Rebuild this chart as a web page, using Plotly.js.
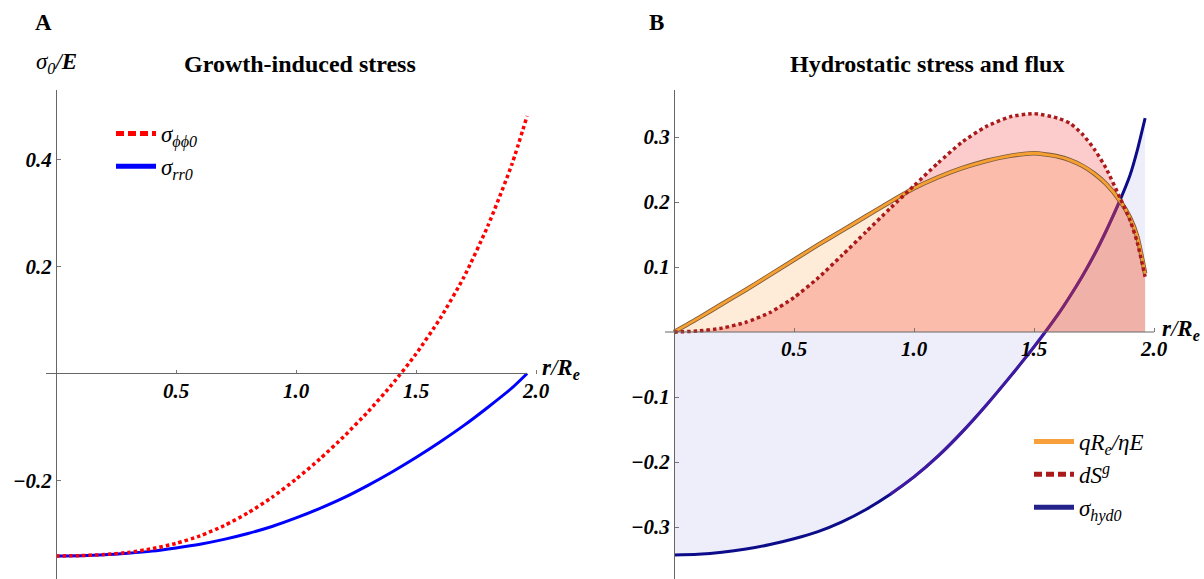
<!DOCTYPE html>
<html><head><meta charset="utf-8">
<script src="https://cdn.plot.ly/plotly-3.0.1.min.js"></script>
<style>html,body{margin:0;padding:0;background:#fff}#chart{width:1204px;height:579px}</style>
</head><body><div id="chart"></div>
<script>
// ---------- Panel A : growth-induced stress ----------
const rA = [0,0.1,0.2,0.3,0.4,0.5,0.6,0.7,0.8,0.9,1.0,1.1,1.2,1.3,1.4,1.5,1.6,1.7,1.8,1.9,1.963];
const sigmaPhiPhi0 = [-0.341,-0.3405,-0.3385,-0.3345,-0.3275,-0.3175,-0.3035,-0.2845,-0.2605,-0.2315,-0.1975,-0.1595,-0.1175,-0.0715,-0.0205,0.0365,0.1025,0.1805,0.2765,0.3915,0.4815];
const sigmaRR0 = [-0.341,-0.3405,-0.339,-0.336,-0.332,-0.326,-0.319,-0.310,-0.299,-0.286,-0.270,-0.252,-0.232,-0.209,-0.184,-0.157,-0.128,-0.097,-0.063,-0.027,0.0];
const xTicksA = [0.5,1.0,1.5,2.0];
const xTickTextA = ["0.5","1.0","1.5","2.0"];
const yTicksA = [-0.2,0.2,0.4];
const yTickTextA = ["\u22120.2","0.2","0.4"];

// ---------- Panel B : hydrostatic stress and flux ----------
const rB = [0,0.1,0.2,0.3,0.4,0.5,0.6,0.7,0.8,0.9,1.0,1.1,1.2,1.3,1.4,1.5,1.6,1.65,1.7,1.75,1.8,1.86,1.9,1.93,1.963];
const fluxQ = [0,0.021,0.043,0.065,0.088,0.111,0.134,0.156,0.178,0.200,0.221,0.238,0.252,0.263,0.271,0.275,0.270,0.2645,0.256,0.244,0.228,0.201,0.176,0.147,0.090];
const dSg = [0,0.0015,0.006,0.015,0.030,0.053,0.083,0.118,0.154,0.190,0.225,0.260,0.292,0.316,0.331,0.336,0.329,0.321,0.305,0.282,0.252,0.205,0.172,0.138,0.085];
const sigmaHyd0 = [-0.343,-0.342,-0.339,-0.334,-0.327,-0.318,-0.307,-0.292,-0.273,-0.250,-0.223,-0.191,-0.154,-0.113,-0.069,-0.023,0.027,0.055,0.085,0.118,0.155,0.204,0.241,0.279,0.329];
const xTicksB = [0.5,1.0,1.5,2.0];
const xTickTextB = ["0.5","1.0","1.5","2.0"];
const yTicksB = [-0.3,-0.2,-0.1,0.1,0.2,0.3];
const yTickTextB = ["\u22120.3","\u22120.2","\u22120.1","0.1","0.2","0.3"];

const W = 1204, H = 579;
const px = v => v / W;
const py = v => 1 - v / H;
const serif = "'Liberation Serif', 'Times New Roman', serif";

// purple-tinted part of the hydrostatic curve
const purpleIdx = rB.map((r,i)=>i).filter(i => rB[i] >= 0.9 && rB[i] <= 1.86);

const spl = {shape:'spline', smoothing:0.6};

const traces = [
  // Panel A curves
  {x: rA, y: sigmaRR0, xaxis:'x', yaxis:'y', mode:'lines', showlegend:false,
   line: Object.assign({color:'#0000ff', width:3}, spl)},
  {x: rA, y: sigmaPhiPhi0, xaxis:'x', yaxis:'y', mode:'lines', showlegend:false,
   line: Object.assign({color:'#ff0000', width:3.5, dash:'3.5px,3px'}, spl)},
  // Panel A legend entries
  {x:[null], y:[null], xaxis:'x', yaxis:'y', mode:'lines', legend:'legend',
   name:'<i>σ<sub>ϕϕ0</sub></i>', line:{color:'#ff0000', width:5, dash:'8px,4px'}},
  {x:[null], y:[null], xaxis:'x', yaxis:'y', mode:'lines', legend:'legend',
   name:'<i>σ<sub>rr0</sub></i>', line:{color:'#0000ff', width:5}},

  // Panel B fills
  {x: rB, y: sigmaHyd0, xaxis:'x2', yaxis:'y2', mode:'none', fill:'tozeroy',
   fillcolor:'rgba(90,90,214,0.10)', showlegend:false},
  {x: rB, y: sigmaHyd0, xaxis:'x2', yaxis:'y2', mode:'lines', showlegend:false,
   line: Object.assign({color:'#0c0c8a', width:3}, spl)},
  {x: purpleIdx.map(i=>rB[i]), y: purpleIdx.map(i=>sigmaHyd0[i]), xaxis:'x2', yaxis:'y2', mode:'lines', showlegend:false,
   line: Object.assign({color:'rgba(80,30,170,0.75)', width:3}, spl)},
  {x: rB, y: fluxQ, xaxis:'x2', yaxis:'y2', mode:'none', fill:'tozeroy',
   fillcolor:'rgba(255,150,40,0.18)', showlegend:false},
  {x: rB, y: dSg, xaxis:'x2', yaxis:'y2', mode:'none', fill:'tozeroy',
   fillcolor:'rgba(240,0,0,0.20)', showlegend:false},
  // Panel B lines
  {x: rB, y: fluxQ, xaxis:'x2', yaxis:'y2', mode:'lines', showlegend:false,
   line: Object.assign({color:'#7d5a3c', width:4.5}, spl)},
  {x: rB, y: fluxQ, xaxis:'x2', yaxis:'y2', mode:'lines', showlegend:false,
   line: Object.assign({color:'#f7a032', width:2.8}, spl)},
  {x: rB, y: dSg, xaxis:'x2', yaxis:'y2', mode:'lines', showlegend:false,
   line: Object.assign({color:'#aa1a1a', width:3.5, dash:'3.5px,3px'}, spl)},
  // Panel B legend entries
  {x:[null], y:[null], xaxis:'x2', yaxis:'y2', mode:'lines', legend:'legend2',
   name:'<i>qR<sub>e</sub>/ηE</i>', line:{color:'#f7a03c', width:5}},
  {x:[null], y:[null], xaxis:'x2', yaxis:'y2', mode:'lines', legend:'legend2',
   name:'<i>dS<sup>g</sup></i>', line:{color:'#aa1a1a', width:5, dash:'8px,4px'}},
  {x:[null], y:[null], xaxis:'x2', yaxis:'y2', mode:'lines', legend:'legend2',
   name:'<i>σ<sub>hyd0</sub></i>', line:{color:'#22228a', width:5}}
];

const tickFont = {family: serif, size: 21, weight: 700, style: 'italic', color: '#000'};

// Panel geometry (pixels)
const A = {x0px: 56, xScale: 240, left: 46, right: 541, y0px: 373.5, yScale: 535, top: 90};
const B = {x0px: 674, xScale: 240, left: 665, right: 1159, y0px: 332, yScale: 650, top: 90};
function xr(P){ return [(P.left-P.x0px)/P.xScale, (P.right-P.x0px)/P.xScale]; }
function yr(P){ return [(P.y0px-H)/P.yScale, (P.y0px-P.top)/P.yScale]; }

const axCommon = {showgrid:false, zeroline:false, ticks:'inside', ticklen:4, tickcolor:'#777',
  tickfont: tickFont, fixedrange:true};

const layout = {
  width: W, height: H, margin:{l:0,r:0,t:0,b:0},
  paper_bgcolor:'#fff', plot_bgcolor:'rgba(0,0,0,0)', hovermode:false,
  font: {family: serif},
  xaxis: Object.assign({}, axCommon, {domain:[px(A.left), px(A.right)], range: xr(A),
    anchor:'free', position: py(A.y0px), showline:false,
    tickvals: xTicksA, ticktext: xTickTextA, ticklabelstandoff: 2}),
  yaxis: Object.assign({}, axCommon, {domain:[0, py(A.top)], range: yr(A),
    anchor:'free', position: px(A.x0px), showline:true, linecolor:'#666', linewidth:1,
    tickvals: yTicksA, ticktext: yTickTextA, ticklabelstandoff: 0}),
  xaxis2: Object.assign({}, axCommon, {domain:[px(B.left), px(B.right)], range: xr(B),
    anchor:'free', position: py(B.y0px), showline:false,
    tickvals: xTicksB, ticktext: xTickTextB, ticklabelstandoff: 2}),
  yaxis2: Object.assign({}, axCommon, {domain:[0, py(B.top)], range: yr(B),
    anchor:'free', position: px(B.x0px), showline:true, linecolor:'#666', linewidth:1,
    tickvals: yTicksB, ticktext: yTickTextB, ticklabelstandoff: 0}),
  shapes: [
    {type:'line', xref:'x', yref:'y', x0: xr(A)[0], x1: rA[rA.length-1], y0:0, y1:0,
     line:{color:'#666', width:1}},
    {type:'line', xref:'x2', yref:'y2', x0: xr(B)[0], x1: 2.0, y0:0, y1:0,
     line:{color:'#666', width:1}}
  ],
  legend: {x: px(111), y: py(112), xanchor:'left', yanchor:'top', bgcolor:'rgba(0,0,0,0)',
    itemwidth: 40, font:{family: serif, size: 23, color:'#000'}},
  legend2: {x: px(1029), y: py(420), xanchor:'left', yanchor:'top', bgcolor:'rgba(0,0,0,0)',
    itemwidth: 40, font:{family: serif, size: 23, color:'#000'}},
  annotations: [
    {text:'<b>A</b>', xref:'paper', yref:'paper', x: px(33), y: py(23), xanchor:'left', yanchor:'middle',
     showarrow:false, font:{family: serif, size: 23, color:'#000'}},
    {text:'<b>B</b>', xref:'paper', yref:'paper', x: px(647), y: py(23), xanchor:'left', yanchor:'middle',
     showarrow:false, font:{family: serif, size: 23, color:'#000'}},
    {text:'<b>Growth-induced stress</b>', xref:'paper', yref:'paper', x: px(300), y: py(64), xanchor:'center', yanchor:'middle',
     showarrow:false, font:{family: serif, size: 24, color:'#000'}},
    {text:'<b>Hydrostatic stress and flux</b>', xref:'paper', yref:'paper', x: px(927), y: py(64), xanchor:'center', yanchor:'middle',
     showarrow:false, font:{family: serif, size: 24, color:'#000'}},
    {text:'<i>σ<sub>0</sub>/<b>E</b></i>', xref:'paper', yref:'paper', x: px(34), y: py(63), xanchor:'left', yanchor:'middle',
     showarrow:false, font:{family: serif, size: 23, color:'#000'}},
    {text:'<i><b>r</b>/<b>R</b><sub><b>e</b></sub></i>', xref:'paper', yref:'paper', x: px(540), y: py(369), xanchor:'left', yanchor:'middle',
     showarrow:false, font:{family: serif, size: 23, color:'#000'}},
    {text:'<i><b>r</b>/<b>R</b><sub><b>e</b></sub></i>', xref:'paper', yref:'paper', x: px(1160), y: py(330), xanchor:'left', yanchor:'middle',
     showarrow:false, font:{family: serif, size: 23, color:'#000'}}
  ]
};

Plotly.newPlot('chart', traces, layout, {staticPlot:true, displayModeBar:false});
</script>
</body></html>
